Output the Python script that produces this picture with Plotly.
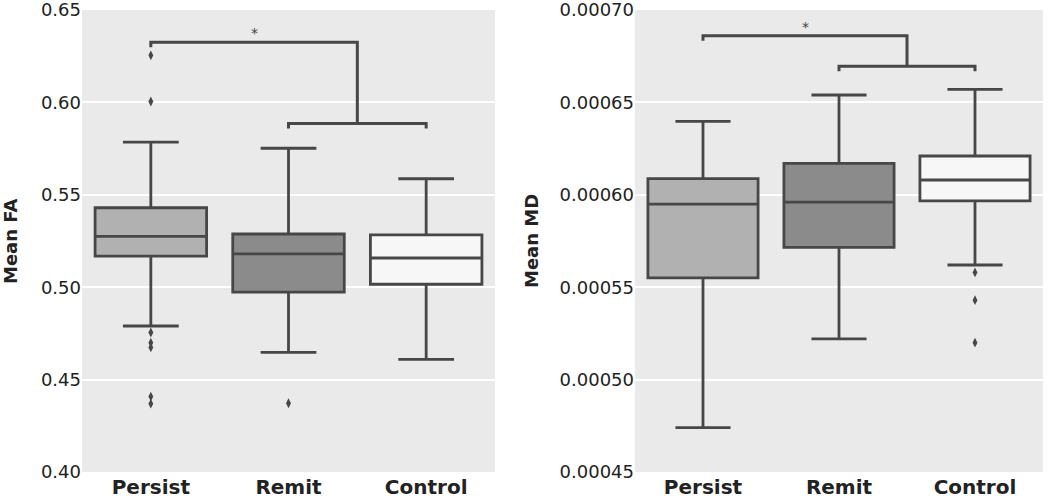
import plotly.graph_objects as go

groups = ["Persist", "Remit", "Control"]
group_labels = ["<b>Persist</b>", "<b>Remit</b>", "<b>Control</b>"]
fills = ["#b1b1b1", "#8b8b8b", "#f7f7f7"]

# Mean FA box statistics
fa_q1 = [0.5168, 0.4973, 0.5016]
fa_med = [0.5275, 0.5180, 0.5158]
fa_q3 = [0.5430, 0.5288, 0.5283]
fa_low = [0.4790, 0.4647, 0.4609]
fa_high = [0.5785, 0.5752, 0.5587]
fa_outliers = [[0.6255, 0.6005, 0.4755, 0.4700, 0.4674, 0.4408, 0.4370], [0.4372], []]

# Mean MD box statistics
md_q1 = [0.000555, 0.0005715, 0.0005967]
md_med = [0.000595, 0.000596, 0.000608]
md_q3 = [0.0006087, 0.000617, 0.000621]
md_low = [0.000474, 0.000522, 0.000562]
md_high = [0.0006397, 0.000654, 0.000657]
md_outliers = [[], [], [0.000558, 0.000543, 0.000520]]

# significance brackets: (top level, lower level)
fa_brackets = [0.6326, 0.5886]
md_brackets = [0.000686, 0.0006696]

LINE = "#474747"
fig = go.Figure()

def add_panel(q1, med, q3, low, high, outs, br, xa, ya, tick):
    for i, g in enumerate(groups):
        fig.add_trace(go.Box(
            x=[i], q1=[q1[i]], median=[med[i]], q3=[q3[i]],
            lowerfence=[low[i]], upperfence=[high[i]],
            fillcolor=fills[i], line=dict(color=LINE, width=2.8),
            width=0.81, whiskerwidth=0.5, boxpoints=False,
            showlegend=False, hoverinfo="skip", xaxis=xa, yaxis=ya))
        if outs[i]:
            fig.add_trace(go.Scatter(
                x=[i] * len(outs[i]), y=outs[i], mode="markers",
                marker=dict(symbol="diamond-tall", size=7, color=LINE),
                showlegend=False, hoverinfo="skip", xaxis=xa, yaxis=ya))
    top, low2 = br
    fig.add_trace(go.Scatter(
        x=[0, 0, 1.5, 1.5], y=[top - tick, top, top, low2], mode="lines",
        line=dict(color=LINE, width=3), showlegend=False, hoverinfo="skip",
        xaxis=xa, yaxis=ya))
    fig.add_trace(go.Scatter(
        x=[1, 1, 2, 2], y=[low2 - tick, low2, low2, low2 - tick], mode="lines",
        line=dict(color=LINE, width=3), showlegend=False, hoverinfo="skip",
        xaxis=xa, yaxis=ya))
    fig.add_annotation(x=0.75, y=top, xref=xa, yref=ya, text="*",
                       showarrow=False, yanchor="bottom", yshift=-1,
                       font=dict(family="DejaVu Sans", size=14, color="#444"))

add_panel(fa_q1, fa_med, fa_q3, fa_low, fa_high, fa_outliers, fa_brackets, "x", "y", 0.0027)
add_panel(md_q1, md_med, md_q3, md_low, md_high, md_outliers, md_brackets, "x2", "y2", 0.0000027)

xcommon = dict(range=[-0.5, 2.5], tickvals=[0, 1, 2], ticktext=group_labels,
               showgrid=False, zeroline=False, showline=False, ticks="",
               ticklabelstandoff=1,
               tickfont=dict(family="DejaVu Sans", size=20, color="#222"),
               automargin=False)
ycommon = dict(showgrid=True, gridcolor="white", gridwidth=2, zeroline=False,
               showline=False, ticks="", automargin=False, ticklabeloverflow="allow",
               tickfont=dict(family="DejaVu Sans", size=18, color="#222"))

fig.update_layout(
    width=1050, height=500,
    margin=dict(l=0, r=0, t=0, b=0),
    paper_bgcolor="white", plot_bgcolor="#eaeaea",
    xaxis=dict(domain=[82 / 1050, 495 / 1050], anchor="y", **xcommon),
    xaxis2=dict(domain=[635 / 1050, 1043 / 1050], anchor="y2", **xcommon),
    yaxis=dict(domain=[28 / 500, 490 / 500], anchor="x", range=[0.40, 0.65001],
               tickvals=[0.40, 0.45, 0.50, 0.55, 0.60, 0.65], tickformat=".2f", **ycommon),
    yaxis2=dict(domain=[28 / 500, 490 / 500], anchor="x2", range=[0.00045, 0.0007000001],
                tickvals=[0.00045, 0.00050, 0.00055, 0.00060, 0.00065, 0.00070],
                tickformat=".5f", **ycommon),
)
fig.add_annotation(x=10 / 1050, y=0.5 * (28 + 490) / 500, xref="paper", yref="paper",
                   text="<b>Mean FA</b>", textangle=-90, showarrow=False,
                   xanchor="center", yanchor="middle",
                   font=dict(family="DejaVu Sans", size=18, color="#222"))
fig.add_annotation(x=531 / 1050, y=0.5 * (28 + 490) / 500, xref="paper", yref="paper",
                   text="<b>Mean MD</b>", textangle=-90, showarrow=False,
                   xanchor="center", yanchor="middle",
                   font=dict(family="DejaVu Sans", size=18, color="#222"))

fig.write_html("out.html", config={"displayModeBar": False},
               post_script="document.body.style.margin='0';")
